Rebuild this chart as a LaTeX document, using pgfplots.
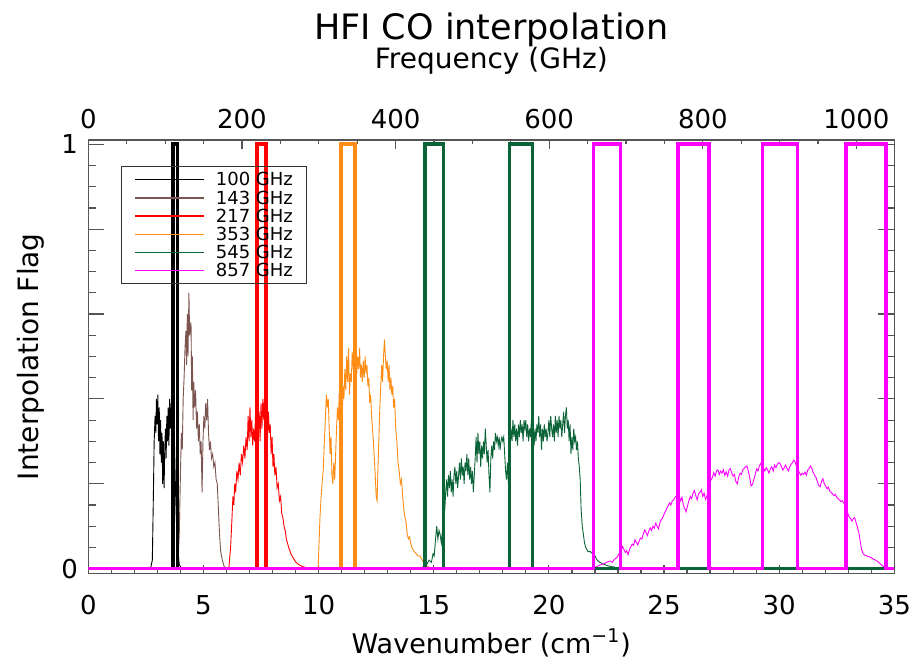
\documentclass[border=0pt]{standalone}
\usepackage{fontspec}
\setmainfont{DejaVu Sans}
\usepackage{pgfplots}
\pgfplotsset{compat=1.18}
\definecolor{cbrown}{RGB}{125,85,80}
\definecolor{corange}{RGB}{255,140,20}
\definecolor{cgreen}{RGB}{10,100,55}
\definecolor{cmag}{RGB}{255,0,255}
\definecolor{cframe}{RGB}{85,85,85}
\pgfplotsset{myaxis/.style={width=403pt,height=216.65pt,scale only axis,at={(0,0)},anchor=south west,
  axis line style={cframe,line width=0.6pt}, every tick/.style={cframe,line width=0.6pt},
  /pgf/number format/assume math mode=true, /pgf/number format/1000 sep={},
  tick label style={font=\fontsize{13}{13}\selectfont}}}
\begin{document}
\begin{tikzpicture}
\useasboundingbox (-44.15pt,-46.35pt) rectangle (412.85pt,286.65pt);
% bottom x ticks
\begin{axis}[myaxis, xmin=0, xmax=35, ymin=-0.011, ymax=1.01,
  xtick={0,5,10,15,20,25,30,35}, minor x tick num=4, xtick pos=left, ytick=\empty,
  major tick length=4.3pt, minor tick length=2.15pt,
  xticklabel style={yshift=-7.4pt}]
\end{axis}
% y ticks both sides
\begin{axis}[myaxis, xmin=0, xmax=35, ymin=-0.011, ymax=1.01, xtick=\empty,
  ytick={0,0.2,0.4,0.6,0.8,1}, yticklabels={0,,,,,1}, minor y tick num=3,
  ytick pos=both, yticklabel pos=left, major tick length=8pt, minor tick length=4pt,
  yticklabel style={xshift=-1.7pt}]
\end{axis}
% top frequency axis
\begin{axis}[myaxis, xmin=0, xmax=1049.27, ymin=0, ymax=1, axis x line*=top, axis y line=none,
  xtick={0,200,400,600,800,1000}, minor x tick num=3, ytick=\empty,
  major tick length=4.3pt, minor tick length=2.15pt, xticklabel style={yshift=2pt}]
\end{axis}
% data
\begin{axis}[myaxis, xmin=0, xmax=35, ymin=-0.011, ymax=1.01, xtick=\empty, ytick=\empty,
  legend cell align=left,
  legend image code/.code={\draw[#1,line width=0.7pt] (0pt,0pt) -- (34.5pt,0pt);},
  legend style={at={(rel axis cs:0.0406,0.940)}, anchor=north west, draw=black!80, line width=0.5pt, fill=none,
    font=\fontsize{9}{9}\selectfont, inner xsep=6.5pt, inner ysep=3pt, row sep=1.9pt, column sep=5pt,
    nodes={inner sep=0.5pt, text height=6.2pt, text depth=0pt}},
  every axis plot/.append style={line width=0.45pt}]
% 100 GHz
\addplot[black] coordinates {(2.70,0) (2.78,0.02) (2.82,0.15) (2.86,0.30) (2.90,0.36) (2.93,0.32) (2.96,0.40) (2.99,0.34) (3.02,0.41) (3.05,0.30) (3.08,0.38) (3.11,0.27) (3.14,0.35) (3.17,0.25) (3.20,0.32) (3.23,0.20) (3.26,0.30) (3.29,0.19) (3.32,0.28) (3.35,0.33) (3.38,0.26) (3.41,0.36) (3.44,0.30) (3.47,0.38) (3.50,0.29) (3.53,0.40) (3.56,0.33) (3.60,0.39) (3.63,0.30) (3.66,0.35) (3.70,0.25) (3.74,0.30) (3.78,0.20) (3.82,0.12) (3.88,0.05) (3.95,0.01) (4.05,0)};
\addlegendentry{100 GHz}
% 143 GHz
\addplot[cbrown] coordinates {(3.88,0) (3.95,0.08) (4.00,0.22) (4.04,0.32) (4.08,0.28) (4.12,0.40) (4.16,0.45) (4.20,0.52) (4.24,0.56) (4.27,0.48) (4.30,0.60) (4.33,0.50) (4.37,0.65) (4.40,0.55) (4.43,0.57) (4.46,0.58) (4.49,0.42) (4.52,0.50) (4.55,0.35) (4.58,0.44) (4.62,0.38) (4.66,0.42) (4.70,0.33) (4.74,0.37) (4.78,0.30) (4.82,0.34) (4.86,0.27) (4.90,0.30) (4.94,0.18) (4.98,0.30) (5.02,0.36) (5.06,0.33) (5.10,0.39) (5.14,0.35) (5.18,0.40) (5.22,0.32) (5.26,0.28) (5.30,0.30) (5.35,0.26) (5.40,0.27) (5.45,0.24) (5.50,0.25) (5.55,0.21) (5.60,0.20) (5.65,0.14) (5.70,0.08) (5.75,0.04) (5.82,0.02) (5.90,0.005) (6.00,0)};
\addlegendentry{143 GHz}
% 217 GHz
\addplot[red] coordinates {(6.10,0) (6.18,0.05) (6.24,0.12) (6.28,0.17) (6.32,0.15) (6.36,0.20) (6.40,0.18) (6.45,0.23) (6.50,0.21) (6.55,0.25) (6.60,0.22) (6.65,0.27) (6.70,0.25) (6.75,0.29) (6.80,0.26) (6.85,0.31) (6.90,0.28) (6.94,0.36) (6.98,0.30) (7.02,0.38) (7.06,0.31) (7.10,0.35) (7.14,0.29) (7.18,0.33) (7.22,0.30) (7.26,0.36) (7.30,0.31) (7.34,0.38) (7.38,0.32) (7.42,0.37) (7.46,0.30) (7.50,0.39) (7.54,0.33) (7.58,0.40) (7.62,0.35) (7.66,0.41) (7.70,0.33) (7.74,0.38) (7.78,0.30) (7.82,0.37) (7.86,0.32) (7.90,0.34) (7.94,0.27) (7.98,0.31) (8.02,0.24) (8.06,0.27) (8.10,0.22) (8.15,0.24) (8.20,0.19) (8.25,0.20) (8.30,0.16) (8.35,0.17) (8.40,0.13) (8.45,0.12) (8.50,0.10) (8.55,0.09) (8.60,0.07) (8.70,0.05) (8.80,0.035) (8.90,0.025) (9.00,0.016) (9.15,0.009) (9.30,0.005) (9.50,0.002) (9.90,0)};
\addlegendentry{217 GHz}
% 353 GHz
\addplot[corange] coordinates {(9.98,0) (10.02,0.06) (10.06,0.12) (10.10,0.16) (10.15,0.20) (10.20,0.23) (10.25,0.30) (10.30,0.36) (10.34,0.41) (10.38,0.38) (10.42,0.40) (10.46,0.33) (10.50,0.27) (10.54,0.31) (10.58,0.22) (10.62,0.20) (10.66,0.25) (10.70,0.21) (10.74,0.27) (10.78,0.33) (10.82,0.38) (10.86,0.35) (10.90,0.42) (10.94,0.30) (10.98,0.38) (11.02,0.34) (11.06,0.43) (11.10,0.40) (11.14,0.47) (11.18,0.42) (11.22,0.50) (11.26,0.44) (11.30,0.52) (11.34,0.41) (11.38,0.46) (11.42,0.44) (11.46,0.51) (11.50,0.47) (11.54,0.52) (11.58,0.48) (11.62,0.51) (11.66,0.46) (11.70,0.50) (11.74,0.47) (11.78,0.52) (11.82,0.45) (11.86,0.48) (11.90,0.44) (11.94,0.49) (11.98,0.45) (12.02,0.50) (12.06,0.46) (12.10,0.48) (12.14,0.43) (12.18,0.45) (12.22,0.39) (12.26,0.41) (12.30,0.36) (12.34,0.33) (12.38,0.30) (12.42,0.26) (12.46,0.22) (12.50,0.17) (12.54,0.16) (12.58,0.24) (12.62,0.31) (12.66,0.38) (12.70,0.43) (12.74,0.48) (12.78,0.44) (12.82,0.50) (12.86,0.54) (12.90,0.50) (12.94,0.47) (12.98,0.49) (13.02,0.44) (13.06,0.48) (13.10,0.42) (13.14,0.45) (13.18,0.41) (13.22,0.43) (13.26,0.38) (13.30,0.40) (13.35,0.33) (13.40,0.30) (13.45,0.25) (13.50,0.23) (13.55,0.20) (13.60,0.21) (13.65,0.17) (13.70,0.14) (13.75,0.12) (13.80,0.11) (13.85,0.08) (13.90,0.07) (13.95,0.075) (14.00,0.06) (14.05,0.05) (14.10,0.045) (14.15,0.04) (14.20,0.038) (14.30,0.03) (14.40,0.03) (14.50,0.02) (14.60,0.01) (14.70,0.006) (14.90,0)};
\addlegendentry{353 GHz}
% 545 GHz
\addplot[cgreen] coordinates {(14.30,0) (14.50,0.003) (14.70,0.01) (14.80,0.02) (14.90,0.015) (14.97,0.035) (15.02,0.03) (15.08,0.07) (15.13,0.10) (15.18,0.07) (15.23,0.09) (15.28,0.08) (15.33,0.06) (15.38,0.09) (15.43,0.12) (15.48,0.14) (15.52,0.18) (15.56,0.21) (15.60,0.17) (15.64,0.22) (15.68,0.19) (15.72,0.23) (15.76,0.18) (15.80,0.21) (15.84,0.17) (15.88,0.22) (15.92,0.24) (15.96,0.20) (16.00,0.23) (16.04,0.19) (16.08,0.22) (16.12,0.25) (16.16,0.21) (16.20,0.26) (16.24,0.22) (16.28,0.24) (16.32,0.20) (16.36,0.25) (16.40,0.23) (16.44,0.27) (16.48,0.22) (16.52,0.26) (16.56,0.21) (16.60,0.24) (16.64,0.20) (16.68,0.23) (16.72,0.18) (16.76,0.22) (16.80,0.26) (16.84,0.31) (16.88,0.25) (16.92,0.32) (16.96,0.27) (17.00,0.30) (17.04,0.24) (17.08,0.29) (17.12,0.26) (17.16,0.30) (17.20,0.27) (17.24,0.33) (17.28,0.29) (17.32,0.25) (17.36,0.28) (17.40,0.22) (17.44,0.18) (17.48,0.26) (17.52,0.29) (17.56,0.26) (17.60,0.30) (17.64,0.28) (17.68,0.32) (17.72,0.30) (17.76,0.31) (17.80,0.29) (17.84,0.31) (17.88,0.28) (17.92,0.30) (17.96,0.31) (18.00,0.30) (18.04,0.31) (18.08,0.27) (18.12,0.23) (18.16,0.21) (18.20,0.25) (18.24,0.20) (18.28,0.24) (18.32,0.29) (18.36,0.33) (18.40,0.30) (18.44,0.35) (18.48,0.31) (18.52,0.34) (18.56,0.30) (18.60,0.33) (18.64,0.29) (18.68,0.34) (18.72,0.31) (18.76,0.35) (18.80,0.32) (18.84,0.34) (18.88,0.30) (18.92,0.35) (18.96,0.33) (19.00,0.35) (19.04,0.31) (19.08,0.34) (19.12,0.30) (19.16,0.33) (19.20,0.31) (19.24,0.35) (19.28,0.30) (19.32,0.34) (19.36,0.29) (19.40,0.33) (19.44,0.30) (19.48,0.34) (19.52,0.32) (19.56,0.36) (19.60,0.31) (19.64,0.34) (19.68,0.28) (19.72,0.33) (19.76,0.30) (19.80,0.34) (19.84,0.31) (19.88,0.33) (19.92,0.30) (19.96,0.32) (20.00,0.35) (20.04,0.31) (20.08,0.36) (20.12,0.33) (20.16,0.31) (20.20,0.34) (20.24,0.30) (20.28,0.36) (20.32,0.32) (20.36,0.35) (20.40,0.31) (20.44,0.36) (20.48,0.33) (20.52,0.35) (20.56,0.31) (20.60,0.34) (20.64,0.37) (20.68,0.32) (20.72,0.36) (20.76,0.38) (20.80,0.33) (20.84,0.35) (20.88,0.30) (20.92,0.34) (20.96,0.27) (21.00,0.31) (21.04,0.28) (21.08,0.33) (21.12,0.30) (21.16,0.31) (21.20,0.28) (21.24,0.30) (21.28,0.26) (21.32,0.24) (21.36,0.21) (21.40,0.14) (21.45,0.10) (21.50,0.08) (21.55,0.06) (21.60,0.05) (21.65,0.045) (21.70,0.04) (21.80,0.04) (21.90,0.035) (22.00,0.03) (22.10,0.02) (22.20,0.015) (22.40,0.01) (22.60,0.006) (22.90,0.003) (23.00,0)};
\addlegendentry{545 GHz}
% 857 GHz
\addplot[cmag] coordinates {(21.80,0) (22.00,0.003) (22.20,0.008) (22.40,0.012) (22.55,0.016) (22.65,0.018) (22.75,0.015) (22.85,0.022) (22.95,0.026) (23.05,0.035) (23.12,0.04) (23.20,0.052) (23.26,0.045) (23.32,0.038) (23.38,0.042) (23.44,0.033) (23.50,0.045) (23.56,0.052) (23.62,0.058) (23.68,0.055) (23.74,0.068) (23.80,0.062) (23.86,0.056) (23.92,0.065) (23.98,0.072) (24.04,0.070) (24.10,0.082) (24.16,0.091) (24.22,0.085) (24.28,0.078) (24.34,0.088) (24.40,0.096) (24.46,0.090) (24.52,0.100) (24.58,0.095) (24.64,0.107) (24.70,0.100) (24.76,0.094) (24.82,0.108) (24.88,0.115) (24.94,0.120) (25.00,0.128) (25.06,0.135) (25.12,0.142) (25.18,0.148) (25.24,0.155) (25.30,0.150) (25.36,0.160) (25.42,0.162) (25.48,0.168) (25.54,0.172) (25.60,0.165) (25.66,0.170) (25.72,0.160) (25.78,0.168) (25.84,0.150) (25.90,0.142) (25.96,0.134) (26.02,0.148) (26.08,0.160) (26.14,0.170) (26.20,0.165) (26.26,0.178) (26.32,0.184) (26.38,0.172) (26.44,0.162) (26.50,0.176) (26.56,0.180) (26.62,0.186) (26.68,0.170) (26.74,0.178) (26.80,0.163) (26.86,0.170) (26.92,0.190) (26.98,0.200) (27.04,0.209) (27.10,0.215) (27.16,0.226) (27.22,0.218) (27.28,0.230) (27.34,0.233) (27.40,0.222) (27.46,0.230) (27.52,0.225) (27.58,0.233) (27.64,0.220) (27.70,0.228) (27.76,0.218) (27.82,0.232) (27.88,0.236) (27.94,0.225) (28.00,0.218) (28.06,0.222) (28.12,0.205) (28.18,0.200) (28.24,0.215) (28.30,0.225) (28.36,0.222) (28.42,0.233) (28.48,0.236) (28.54,0.240) (28.60,0.242) (28.66,0.230) (28.72,0.215) (28.78,0.195) (28.84,0.198) (28.90,0.210) (28.96,0.222) (29.02,0.235) (29.08,0.230) (29.14,0.242) (29.20,0.248) (29.26,0.240) (29.32,0.238) (29.38,0.230) (29.44,0.238) (29.50,0.232) (29.56,0.225) (29.62,0.236) (29.68,0.240) (29.74,0.230) (29.80,0.244) (29.86,0.238) (29.92,0.246) (29.98,0.250) (30.04,0.248) (30.10,0.240) (30.16,0.232) (30.22,0.238) (30.28,0.244) (30.34,0.236) (30.40,0.230) (30.46,0.240) (30.52,0.246) (30.58,0.250) (30.64,0.256) (30.70,0.250) (30.76,0.240) (30.82,0.232) (30.88,0.226) (30.94,0.220) (31.00,0.225) (31.06,0.222) (31.12,0.228) (31.18,0.220) (31.24,0.232) (31.30,0.236) (31.36,0.242) (31.42,0.236) (31.48,0.226) (31.54,0.220) (31.60,0.215) (31.66,0.205) (31.72,0.196) (31.78,0.193) (31.84,0.205) (31.90,0.212) (31.96,0.200) (32.02,0.195) (32.08,0.188) (32.14,0.192) (32.20,0.182) (32.26,0.180) (32.32,0.176) (32.38,0.172) (32.44,0.175) (32.50,0.168) (32.56,0.165) (32.62,0.162) (32.68,0.158) (32.74,0.160) (32.80,0.155) (32.86,0.152) (32.92,0.145) (32.98,0.130) (33.04,0.122) (33.10,0.118) (33.16,0.112) (33.22,0.118) (33.28,0.120) (33.34,0.108) (33.40,0.098) (33.46,0.085) (33.52,0.065) (33.58,0.045) (33.64,0.036) (33.70,0.032) (33.80,0.030) (33.90,0.028) (34.00,0.026) (34.10,0.022) (34.20,0.020) (34.30,0.016) (34.40,0.011) (34.50,0.006) (34.60,0)};
\addlegendentry{857 GHz}
% interpolation flags
\addplot[black, line width=1.75pt, line join=miter, forget plot] coordinates {(0,0) (3.67,0) (3.67,1) (3.87,1) (3.87,0) (35,0)};
\addplot[cbrown, line width=1.75pt, line join=miter, forget plot] coordinates {(0,0) (35,0)};
\addplot[red, line width=1.75pt, line join=miter, forget plot] coordinates {(0,0) (7.32,0) (7.32,1) (7.72,1) (7.72,0) (35,0)};
\addplot[corange, line width=1.75pt, line join=miter, forget plot] coordinates {(0,0) (10.97,0) (10.97,1) (11.58,1) (11.58,0) (35,0)};
\addplot[cgreen, line width=1.75pt, line join=miter, forget plot] coordinates {(0,0) (14.62,0) (14.62,1) (15.42,1) (15.42,0) (18.30,0) (18.30,1) (19.29,1) (19.29,0) (35,0)};
\addplot[cmag, line width=1.75pt, line join=miter, forget plot] coordinates {(0,0) (21.94,0) (21.94,1) (23.12,1) (23.12,0) (25.60,0) (25.60,1) (26.95,1) (26.95,0) (29.27,0) (29.27,1) (30.80,1) (30.80,0) (32.90,0) (32.90,1) (34.64,1) (34.64,0) (35,0)};
\end{axis}
\node[font=\fontsize{17.5}{17.5}\selectfont, anchor=base] at (201.5pt,267.15pt) {HFI CO interpolation};
\node[font=\fontsize{14}{14}\selectfont, anchor=base] at (201.5pt,252.65pt) {Frequency (GHz)};
\node[font=\fontsize{13.5}{13.5}\selectfont, anchor=base] at (201.5pt,-40pt) {Wavenumber (cm\textsuperscript{−1})};
\node[font=\fontsize{14}{14}\selectfont, rotate=90, anchor=base] at (-25pt,108.3pt) {Interpolation Flag};
\end{tikzpicture}
\end{document}
